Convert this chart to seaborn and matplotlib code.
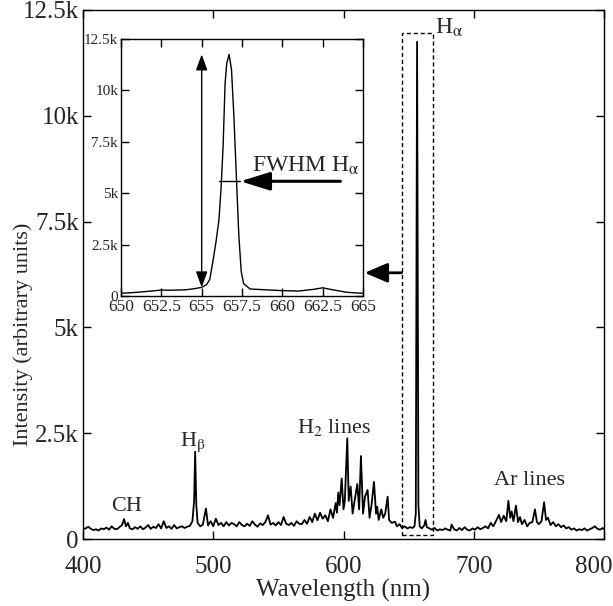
import numpy as np
import pandas as pd
import matplotlib
matplotlib.use("Agg")
import matplotlib.pyplot as plt
import matplotlib.transforms as mtransforms
from matplotlib.patches import Rectangle
import seaborn as sns

# ---------------- data ----------------
wavelength = [400, 402, 404, 406, 408, 410, 412, 414, 416, 418, 420, 422, 424, 426, 428, 430,
              431.5, 433, 434.5, 436, 438, 440, 442, 444, 446, 448, 450, 452, 454, 456, 458, 460,
              462, 464, 466, 468, 470, 472, 474, 476, 478, 480, 482, 484, 485.3, 486.1, 487, 488,
              490, 492, 494.4, 496, 498, 500, 502, 504, 506, 508, 510, 512, 514, 516, 518, 520,
              522, 524, 526, 528, 530, 532, 534, 536, 538, 540, 542, 544, 546, 548, 550, 552,
              554, 556, 558, 560, 562, 564, 566, 568, 570, 572, 574, 576, 578, 580, 582, 584,
              586, 588, 590, 592, 594, 595, 596, 597, 598.6, 600, 601, 602.9, 604, 605.5, 607,
              608.5, 610.6, 612, 613.4, 615, 616.5, 618.5, 620, 621.5, 623.4, 625, 625.9, 627,
              629, 630.5, 632, 633.9, 635, 637, 639.5, 641, 643, 645, 647, 649, 651, 653, 654.5,
              655.5, 656.5, 657.5, 658.5, 660, 662, 663, 664, 666, 668, 670, 672, 674, 676, 678,
              680, 682, 683, 685, 687, 689, 691, 693, 695, 697, 699, 701, 703, 705, 707, 709,
              711, 713, 715, 717, 719.4, 721, 723, 725, 726.6, 728, 729.1, 730.5, 732.4, 734,
              735.5, 737, 739, 741, 743, 745, 747, 748.5, 750, 752, 754, 755.5, 757, 759, 761,
              763, 765, 767, 769, 771, 773, 775, 777, 779, 781, 783, 785, 787, 789, 791, 793,
              795, 797, 799, 800]
intensity = [230, 250, 290, 240, 210, 230, 200, 250, 230, 270, 220, 300, 240, 230, 280, 330,
             470, 300, 380, 250, 230, 280, 240, 300, 230, 270, 330, 240, 290, 260, 350, 250,
             420, 260, 300, 240, 330, 250, 280, 300, 260, 290, 310, 420, 900, 2060, 800, 380,
             300, 340, 720, 320, 420, 300, 480, 330, 380, 300, 400, 320, 380, 350, 300, 400,
             330, 300, 360, 310, 420, 340, 290, 370, 330, 400, 560, 340, 380, 320, 400, 330,
             520, 360, 330, 380, 310, 420, 360, 350, 450, 360, 520, 400, 600, 440, 620, 480,
             560, 420, 700, 500, 850, 620, 1100, 800, 1430, 700, 900, 2380, 900, 1240, 600,
             900, 1300, 700, 1960, 600, 1000, 1160, 500, 800, 1350, 600, 760, 450,
             700, 500, 600, 1000, 450, 380, 410, 300, 350, 260, 300, 250, 280, 260, 300,
             600, 11750, 800, 300, 250, 320, 450, 280, 250, 220, 260, 200, 230, 210, 250,
             220, 200, 340, 230, 200, 260, 210, 280, 220, 200, 250, 220, 280, 230, 260, 300,
             250, 380, 300, 420, 570, 400, 550, 420, 900, 500, 650, 420, 790, 400,
             520, 350, 450, 300, 380, 400, 700, 400, 350, 420, 870, 450, 500, 330, 400,
             300, 350, 280, 320, 250, 280, 220, 250, 200, 230, 210, 250, 200, 230, 260, 300,
             240, 220, 260, 230]

inset_wavelength = [650, 651, 652, 652.5, 653, 654, 654.5, 655, 655.3, 655.5, 655.7, 655.9,
                    656.07, 656.2, 656.33, 656.45, 656.55, 656.7, 656.85, 657.0, 657.16,
                    657.3, 657.45, 657.6, 658, 659, 660, 661, 662, 662.5, 663, 664, 665]
inset_intensity = [130, 180, 250, 290, 280, 300, 350, 420, 550, 800, 1700, 2700,
                   3700, 5200, 7300, 10300, 11300, 11750, 11000, 8700, 5640,
                   3000, 1200, 600, 340, 300, 260, 240, 330, 400, 320, 180, 130]

x_ticks = [400, 500, 600, 700, 800]
y_ticks = [0, 2500, 5000, 7500, 10000, 12500]
y_tick_labels = ["0", "2.5k", "5k", "7.5k", "10k", "12.5k"]
inset_x_ticks = [650, 652.5, 655, 657.5, 660, 662.5, 665]
inset_x_tick_labels = ["650", "652.5", "655", "657.5", "660", "662.5", "665"]

box_x0, box_x1, box_top, box_bottom = 644.6, 669.0, 11950, 100
fwhm_level, fwhm_left, fwhm_right = 5580, 656.07, 657.4

# ---------------- style ----------------
sns.set_theme(style="ticks")
plt.rcParams["font.family"] = ["Liberation Serif", "DejaVu Serif"]
plt.rcParams["mathtext.fontset"] = "stix"

fig = plt.figure(figsize=(6.13, 6.06), dpi=100)
ax = fig.add_axes([83 / 613, 67 / 606, 521 / 613, 529 / 606])

df = pd.DataFrame({"Wavelength": wavelength, "Intensity": intensity})
sns.lineplot(data=df, x="Wavelength", y="Intensity", ax=ax, color="black", lw=1.3)
ax.set_xlim(400, 800)
ax.set_ylim(0, 12500)
ax.set_xticks(x_ticks)
ax.set_xticklabels([str(v) for v in x_ticks])
ax.set_yticks(y_ticks)
ax.set_yticklabels(y_tick_labels)
ax.tick_params(direction="in", top=True, right=True, length=6, width=1,
               labelsize=18, color="black")
ax.tick_params(axis="x", pad=12)
ax.tick_params(axis="y", pad=3)
# keep the last x label inside the figure, like the reference
last = ax.get_xticklabels()[-1]
last.set_transform(last.get_transform() +
                   mtransforms.ScaledTranslation(-10 / 100, 0, fig.dpi_scale_trans))
ax.set_xlabel("Wavelength (nm)", fontsize=18, labelpad=1)
ax.set_ylabel("Intensity (arbitrary units)", fontsize=16)
ax.yaxis.set_label_coords(-0.096, 0.387)
for s in ax.spines.values():
    s.set_linewidth(1.0)
    s.set_color("black")

# dashed box around H-alpha
ax.add_patch(Rectangle((box_x0, box_bottom), box_x1 - box_x0, box_top - box_bottom,
                       fill=False, ls=(0, (3, 2)), lw=1.0, ec="black"))

# labels
ax.text(433.5, 650, "CH", fontsize=16, ha="center", va="baseline")
ax.text(484, 2200, r"H$_\mathrm{\beta}$", fontsize=16, ha="center", va="baseline")
ax.text(593, 2500, r"H$_2$ lines", fontsize=16, ha="center", va="baseline")
ax.text(743, 1280, "Ar lines", fontsize=16, ha="center", va="baseline")
ax.text(670.3, 11950, r"H$_\mathrm{\alpha}$", fontsize=17, ha="left", va="baseline")

# arrow from box to inset
ax.annotate("", xy=(616.3, 6290), xytext=(box_x0, 6290),
            arrowprops=dict(arrowstyle="-|>,head_length=0.7,head_width=0.3",
                            lw=2.0, color="black", shrinkA=0, shrinkB=0,
                            mutation_scale=20))

# ---------------- inset ----------------
ins = fig.add_axes([121 / 613, 310 / 606, 242 / 613, 257 / 606])
dfi = pd.DataFrame({"Wavelength": inset_wavelength, "Intensity": inset_intensity})
sns.lineplot(data=dfi, x="Wavelength", y="Intensity", ax=ins, color="black", lw=1.0)
ins.set_xlim(650, 665)
ins.set_ylim(0, 12500)
ins.set_xticks(inset_x_ticks)
ins.set_xticklabels(inset_x_tick_labels)
ins.set_yticks(y_ticks)
ins.set_yticklabels(y_tick_labels)
ins.set_xlabel("")
ins.set_ylabel("")
ins.tick_params(direction="in", top=True, right=True, length=6, width=1,
                color="black", pad=2)
ins.tick_params(axis="x", labelsize=12.5)
ins.tick_params(axis="y", labelsize=11)
for s in ins.spines.values():
    s.set_linewidth(1.0)
    s.set_color("black")

# double arrow (peak height)
ins.annotate("", xy=(655, 11750), xytext=(655, 420),
             arrowprops=dict(arrowstyle="<|-|>,head_length=0.6,head_width=0.22",
                             lw=1.0, color="black", shrinkA=0, shrinkB=0,
                             mutation_scale=16))
# FWHM line and arrow
ins.plot([fwhm_left, fwhm_right], [fwhm_level, fwhm_level], color="black", lw=1.0)
ins.annotate("", xy=(fwhm_right, fwhm_level), xytext=(663.6, fwhm_level),
             arrowprops=dict(arrowstyle="-|>,head_length=0.9,head_width=0.28",
                             lw=2.2, color="black", shrinkA=0, shrinkB=0,
                             mutation_scale=20))
ins.text(658.1, 6050, r"FWHM H$_\mathrm{\alpha}$", fontsize=17, ha="left", va="baseline")

fig.savefig("out.png", dpi=100)
